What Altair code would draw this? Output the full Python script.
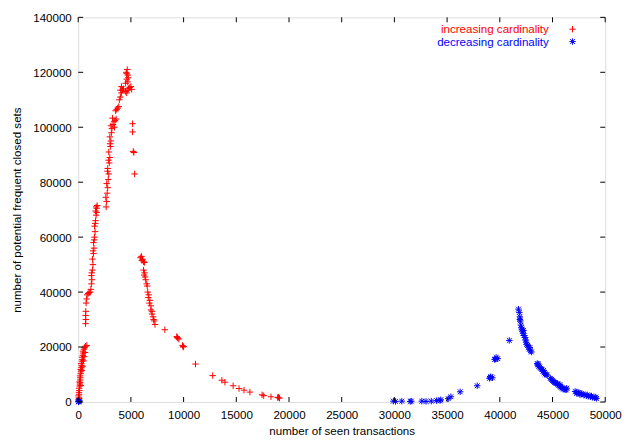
import altair as alt
import pandas as pd

# ---- data ----
inc_x = [20, 40, 60, 30, 80, 70, 110, 90, 130, 150, 120, 180, 200, 170, 240, 260, 230, 300, 320, 290,
         360, 400, 380, 440, 480, 460, 540, 600, 700, 820, 200, 350, 500, 650, 100, 250, 420, 560,
         700, 720, 700, 720,
         750, 800, 850, 950, 1050, 1150,
         1200, 1250, 1300, 1250, 1350, 1400, 1350, 1450, 1500, 1450, 1550, 1600, 1550, 1650, 1700, 1650, 1750, 1800, 1700,
         1280, 1420, 1520, 1620, 1760,
         2650, 2700, 2620, 2750, 2800, 2700, 2850, 2900, 2800, 2950, 3000, 2900, 3050, 3100, 3000, 3150, 3200, 3100,
         2780, 2880, 3020,
         3300, 3400, 3500, 3600, 3250, 3450,
         3550, 3650, 3750, 3850,
         3900, 4000, 4100, 4200, 4300, 4500, 4600, 4700, 4800, 4900, 5000, 4000, 4100, 5070,
         4500, 4600, 4700, 4550, 4650, 4750, 4600, 4700,
         5160, 5160, 5220, 5280, 5350,
         5900, 6000, 6100, 6200, 6300, 6050,
         6200, 6300, 6350, 6400, 6500, 6550, 6250,
         6600, 6700, 6650, 6800, 6750, 6900,
         6900, 7000, 7000, 7100, 7150, 7200,
         7290, 8220, 9350, 9450, 9550, 9400, 9900, 10000, 9950, 11130, 12760, 13630, 13920,
         14700, 15260, 15730, 16290, 17450, 17600, 18290, 18920, 19100, 19000]
inc_y = [300, 800, 1500, 2200, 2800, 3500, 4200, 5000, 5800, 6500, 7300, 8000, 8800, 9500, 10300, 11000, 11800, 12500, 13300, 14000,
         14800, 15500, 16300, 17000, 17800, 18500, 19200, 19800, 20300, 20600, 7000, 11500, 15000, 18000, 1200, 6000, 13000, 16500,
         28500, 30000, 31500, 33000,
         36000, 37500, 39000, 39500, 39800, 40000,
         41000, 43000, 44500, 46000, 48000, 50000, 52000, 54000, 56000, 58000, 60000, 62000, 64000, 66000, 68000, 69500, 70500, 71500, 71000,
         47000, 55000, 59000, 65000, 69000,
         71000, 73000, 74500, 76000, 78000, 79500, 81000, 83000, 85000, 87000, 89000, 91000, 93000, 95000, 96500, 98000, 99500, 100500,
         84000, 88000, 94000,
         101000, 102000, 102500, 103000, 103300, 100000,
         106000, 106500, 107000, 107500,
         110000, 111000, 112500, 113500, 114000, 113000, 112500, 113500, 114200, 114500, 114800, 113500, 114800, 113800,
         116000, 117500, 119000, 120000, 121000, 118000, 119500, 116500,
         101300, 98300, 91200, 90800, 83000,
         52500, 53000, 52000, 51000, 50800, 51500,
         48000, 47000, 45500, 44500, 43000, 42200, 46200,
         40000, 39000, 38000, 37000, 36000, 35000,
         33500, 33000, 32000, 31000, 30000, 29500,
         28200, 26300, 23800, 23200, 22900, 23500, 20600, 20200, 20000, 13800, 9600, 7900, 7200,
         5900, 4900, 4300, 3600, 2600, 2300, 1900, 1600, 1400, 1700]

dec_x = [50, 100, 30, 80,
         29900, 30100, 30700, 31500, 31600, 32600, 33000, 33500, 34000, 34330, 34400, 35110, 35360, 36240, 37860,
         39020, 39150, 39300, 39100, 39500, 39650, 39800, 39600, 40900,
         41770, 41850, 41900, 41950, 42000, 41900, 42050, 42100, 42150, 42200, 42300, 42250, 42400, 42450, 42500,
         42550, 42650, 42700, 42800, 42900, 43000, 42850,
         43550, 43600, 43700, 43800, 43900, 43650, 44000, 44100, 44200, 44300, 44400, 44500, 44150,
         44800, 44900, 45000, 45100, 45200, 45300, 45450, 45500, 45600, 45700, 45800, 45900, 46000, 46100, 46200,
         46300, 46350, 45700,
         47150, 47300, 47450, 47600, 47750, 47900, 47300, 47600, 48000, 48200, 48400, 48600, 48800, 49000, 49180,
         48300, 48700, 49100]
dec_y = [200, 500, 0, 300,
         300, 200, 300, 200, 300, 300, 200, 300, 500, 480, 800, 1200, 1900, 3700, 5900,
         8600, 9200, 8800, 9000, 15500, 16200, 15800, 15600, 22400,
         33800, 32600, 31000, 29500, 28000, 30000, 27000, 26500, 25800, 25000, 24200, 26000, 23500, 22500, 21800,
         21000, 20600, 20000, 19200, 18600, 18200, 19800,
         14000, 13500, 13000, 12600, 12200, 13800, 11800, 11200, 10600, 10200, 9900, 9800, 11500,
         8600, 8200, 7800, 7400, 7100, 6900, 6800, 6400, 6000, 5700, 5400, 5100, 4900, 4700, 4500,
         4400, 5000, 6300,
         3800, 3600, 3400, 3200, 3000, 2800, 3100, 2700, 2500, 2300, 2100, 1900, 1700, 1500, 1300,
         2600, 2200, 1800]

x_ticks = [0, 5000, 10000, 15000, 20000, 25000, 30000, 35000, 40000, 45000, 50000]
y_ticks = [0, 20000, 40000, 60000, 80000, 100000, 120000, 140000]

legend_labels = ["increasing cardinality", "decreasing cardinality"]

# ---- styling ----
W, H = 533, 389
FONT = "Liberation Sans"
FS = 11.7
RED = "#ff0000"
BLUE = "#0000ff"
PLUS = "M-1,0L1,0M0,-1L0,1"
STAR = "M-1,0L1,0M0,-1L0,1M-0.75,-0.75L0.75,0.75M-0.75,0.75L0.75,-0.75"

xscale = alt.Scale(domain=[0, 50000], nice=False, zero=False)
yscale = alt.Scale(domain=[0, 140000], nice=False, zero=False)

xaxis = alt.Axis(values=x_ticks, format="d", ticks=False, domain=False, grid=False, labelPadding=8,
                 labelFont=FONT, labelFontSize=FS, labelColor="black",
                 title="number of seen transactions", titleFont=FONT, titleFontSize=FS,
                 titleFontWeight="normal", titleColor="black", titlePadding=0,
                 titleBaseline="alphabetic", titleY=32.5, labelFlush=False)
yaxis = alt.Axis(values=y_ticks, format="d", ticks=False, domain=False, grid=False, labelPadding=7,
                 labelFont=FONT, labelFontSize=FS, labelColor="black",
                 title="number of potential frequent closed sets", titleFont=FONT, titleFontSize=FS,
                 titleFontWeight="normal", titleColor="black", titlePadding=10, labelFlush=False)

inc_df = pd.DataFrame({"x": inc_x, "y": inc_y})
dec_df = pd.DataFrame({"x": dec_x, "y": dec_y})
xt_df = pd.DataFrame({"x": x_ticks})
yt_df = pd.DataFrame({"y": y_ticks})

X = alt.X("x:Q", scale=xscale, axis=xaxis)
Y = alt.Y("y:Q", scale=yscale, axis=yaxis)

inc = alt.Chart(inc_df).mark_point(shape=PLUS, size=42, strokeWidth=1, filled=False,
                                   color=RED, opacity=1).encode(x=X, y=Y)
dec = alt.Chart(dec_df).mark_point(shape=STAR, size=42, strokeWidth=1, filled=False,
                                   color=BLUE, opacity=1).encode(x=X, y=Y)

tick_style = dict(color="black", strokeWidth=1)
bt = alt.Chart(xt_df).mark_rule(**tick_style).encode(x=X, y=alt.value(H), y2=alt.value(H - 5))
tt = alt.Chart(xt_df).mark_rule(**tick_style).encode(x=X, y=alt.value(0), y2=alt.value(5))
lt = alt.Chart(yt_df).mark_rule(**tick_style).encode(y=Y, x=alt.value(0), x2=alt.value(5))
rt = alt.Chart(yt_df).mark_rule(**tick_style).encode(y=Y, x=alt.value(W), x2=alt.value(W - 5))

leg_df1 = pd.DataFrame({"label": [legend_labels[0]]})
leg_df2 = pd.DataFrame({"label": [legend_labels[1]]})
lt1 = alt.Chart(leg_df1).mark_text(align="right", baseline="middle", font=FONT, fontSize=FS,
                                   color=RED).encode(text="label:N", x=alt.value(476), y=alt.value(12))
lt2 = alt.Chart(leg_df2).mark_text(align="right", baseline="middle", font=FONT, fontSize=FS,
                                   color=BLUE).encode(text="label:N", x=alt.value(476), y=alt.value(24.5))
lm1 = alt.Chart(leg_df1).mark_point(shape=PLUS, size=42, strokeWidth=1, filled=False, color=RED,
                                    opacity=1).encode(x=alt.value(500), y=alt.value(12))
lm2 = alt.Chart(leg_df2).mark_point(shape=STAR, size=42, strokeWidth=1, filled=False, color=BLUE,
                                    opacity=1).encode(x=alt.value(500), y=alt.value(24.5))

chart = alt.layer(inc, dec, bt, tt, lt, rt, lt1, lt2, lm1, lm2).properties(
    width=W, height=H,
    autosize=alt.AutoSizeParams(type="none"),
    padding={"left": 71, "top": 7, "right": 18, "bottom": 36},
).configure_view(stroke="black", strokeWidth=1).configure(background="white")

chart.save("out.html", embed_options={"renderer": "svg", "actions": False})
